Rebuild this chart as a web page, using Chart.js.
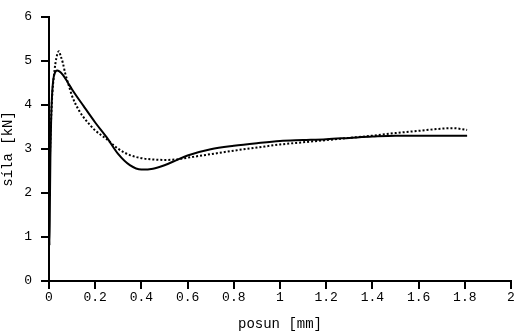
<!DOCTYPE html>
<html>
<head>
<meta charset="utf-8">
<script src="https://cdn.jsdelivr.net/npm/chart.js@4/dist/chart.umd.min.js"></script>
<style>
  html, body { margin: 0; padding: 0; background: #fff; }
  #wrap { width: 520px; height: 335px; }
</style>
</head>
<body>
<div id="wrap"><canvas id="forceChart"></canvas></div>
<script>
// posun [mm] vs. síla [kN], two measured curves
const xSolid = [0, 0.002, 0.004, 0.006, 0.009, 0.013, 0.018, 0.025, 0.035, 0.045, 0.06, 0.08, 0.1, 0.15, 0.2, 0.25, 0.3, 0.35, 0.4, 0.45, 0.5, 0.55, 0.6, 0.7, 0.8, 0.9, 1.0, 1.1, 1.2, 1.3, 1.4, 1.5, 1.6, 1.7, 1.81];
const ySolid = [1.9, 0.8, 1.8, 2.8, 3.6, 4.2, 4.55, 4.72, 4.78, 4.76, 4.68, 4.52, 4.35, 3.97, 3.6, 3.26, 2.88, 2.63, 2.53, 2.55, 2.63, 2.74, 2.85, 2.99, 3.07, 3.13, 3.18, 3.2, 3.22, 3.25, 3.28, 3.3, 3.3, 3.3, 3.3];

const xDotted = [0, 0.003, 0.006, 0.01, 0.015, 0.02, 0.028, 0.036, 0.043, 0.05, 0.06, 0.07, 0.085, 0.1, 0.13, 0.16, 0.2, 0.25, 0.3, 0.35, 0.4, 0.45, 0.5, 0.55, 0.6, 0.7, 0.8, 0.9, 1.0, 1.1, 1.2, 1.3, 1.4, 1.5, 1.6, 1.7, 1.75, 1.81];
const yDotted = [1.75, 2.6, 3.2, 3.8, 4.3, 4.6, 4.95, 5.15, 5.22, 5.12, 4.95, 4.72, 4.45, 4.2, 3.87, 3.65, 3.42, 3.22, 3.0, 2.86, 2.79, 2.76, 2.75, 2.76, 2.8, 2.88, 2.96, 3.03, 3.1, 3.15, 3.2, 3.25, 3.3, 3.36, 3.41, 3.46, 3.47, 3.43];

const xTicks = [0, 0.2, 0.4, 0.6, 0.8, 1, 1.2, 1.4, 1.6, 1.8, 2];
const yTicks = [0, 1, 2, 3, 4, 5, 6];

const toPoints = (xs, ys) => xs.map((x, i) => ({ x: x, y: ys[i] }));
const mono = "'Liberation Mono', 'DejaVu Sans Mono', monospace";

new Chart(document.getElementById('forceChart').getContext('2d'), {
  type: 'line',
  data: {
    datasets: [
      {
        data: toPoints(xSolid, ySolid),
        borderColor: '#000',
        borderWidth: 2,
        pointRadius: 0,
        cubicInterpolationMode: 'monotone'
      },
      {
        data: toPoints(xDotted, yDotted),
        borderColor: '#000',
        borderWidth: 2,
        borderDash: [2, 2],
        pointRadius: 0,
        cubicInterpolationMode: 'monotone'
      }
    ]
  },
  options: {
    responsive: true,
    maintainAspectRatio: false,
    animation: false,
    layout: { padding: { top: 8, right: 9, left: 0, bottom: 0 } },
    plugins: { legend: { display: false }, tooltip: { enabled: false } },
    scales: {
      x: {
        type: 'linear',
        min: 0,
        max: 2,
        afterBuildTicks: axis => { axis.ticks = xTicks.map(v => ({ value: v })); },
        afterFit: axis => { axis.height = 54; },
        grid: { drawOnChartArea: false, drawTicks: true, tickLength: 8, color: '#000', lineWidth: 2 },
        border: { color: '#000', width: 2 },
        ticks: { color: '#000', font: { family: mono, size: 13 }, padding: 1, maxRotation: 0, callback: v => String(v) },
        title: { display: true, text: 'posun [mm]', color: '#000', font: { family: mono, size: 14 }, padding: { top: 0, bottom: 2 } }
      },
      y: {
        min: 0,
        max: 6,
        afterBuildTicks: axis => { axis.ticks = yTicks.map(v => ({ value: v })); },
        afterFit: axis => { axis.width = 49; },
        grid: { drawOnChartArea: false, drawTicks: true, tickLength: 8, color: '#000', lineWidth: 2 },
        border: { color: '#000', width: 2 },
        ticks: { color: '#000', font: { family: mono, size: 13 }, padding: 9, callback: v => String(v) },
        title: { display: true, text: 'síla [kN]', color: '#000', font: { family: mono, size: 14 }, padding: { top: 0, bottom: 0 } }
      }
    }
  }
});
</script>
</body>
</html>
